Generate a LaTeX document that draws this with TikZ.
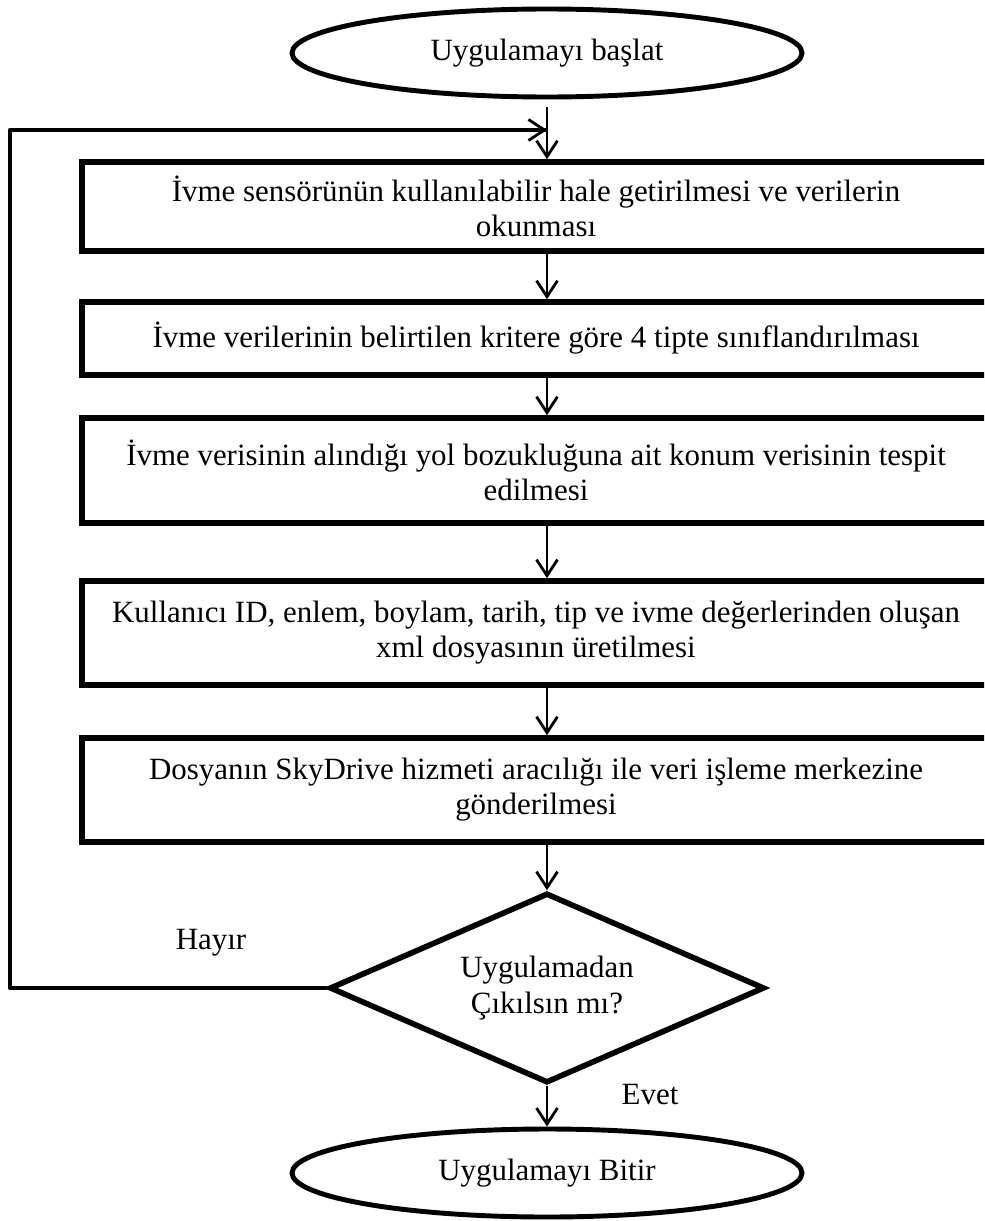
\documentclass[tikz,border=0pt]{standalone}
\usepackage{fontspec}
\setmainfont{Liberation Serif}
\usepackage{tikz}
\usetikzlibrary{arrows.meta,positioning,shapes.geometric}

\tikzset{
  stepbox/.style={draw,rectangle,line width=3.2pt,minimum width=18.16cm,align=center,inner sep=0pt},
  terminal/.style={draw,ellipse,line width=2.8pt,minimum width=10.2cm,minimum height=1.76cm},
  decision/.style={draw,diamond,aspect=2.27,line width=3.2pt,minimum width=8.7cm,minimum height=3.8cm,align=center,inner sep=0pt},
  flow/.style={line width=1.6pt,-{Straight Barb[length=0.32cm,width=0.42cm,line width=1.6pt]}},
  back/.style={line width=2.4pt},
}

\begin{document}
\begin{tikzpicture}[font=\fontsize{17.6}{20}\selectfont]
    \useasboundingbox (0,0) rectangle (19.68,-24.42);
    \clip (0,0) rectangle (19.68,-24.42);

    \node[terminal] (start) at (10.94,-1.06) {Uygulamayı başlat} ;
    \node[stepbox,minimum height=1.78cm] (read) at (10.72,-4.13)
        {İvme sensörünün kullanılabilir hale getirilmesi ve verilerin\\okunması} ;
    \node[stepbox,minimum height=1.46cm] (classify) at (10.72,-6.77)
        {İvme verilerinin belirtilen kritere göre 4 tipte sınıflandırılması} ;
    \node[stepbox,minimum height=2.1cm] (locate) at (10.72,-9.41)
        {İvme verisinin alındığı yol bozukluğuna ait konum verisinin tespit\\edilmesi} ;
    \node[stepbox,minimum height=2.08cm] (xml) at (10.72,-12.66)
        {Kullanıcı ID, enlem, boylam, tarih, tip ve ivme değerlerinden oluşan\\xml dosyasının üretilmesi} ;
    \node[stepbox,minimum height=2.08cm] (send) at (10.72,-15.8)
        {Dosyanın SkyDrive hizmeti aracılığı ile veri işleme merkezine\\gönderilmesi} ;
    \node[decision] (quit) at (10.94,-19.76) {Uygulamadan\\Çıkılsın mı?} ;
    \node[terminal] (stop) at (10.94,-23.46) {Uygulamayı Bitir} ;

    \node (no) at (4.22,-18.86) {Hayır} ;
    \node (yes) at (13.0,-21.9) {Evet} ;

    \coordinate (startout) at (10.94,-2.14) ;
    \coordinate (loopup) at (0.2,-2.6) ;
    \coordinate (loopin) at (10.94,-2.6) ;

    \path[flow] (startout) edge (startout |- read.north) ;
    \path[flow] (read.south -| quit) edge (classify.north -| quit) ;
    \path[flow] (classify.south -| quit) edge (locate.north -| quit) ;
    \path[flow] (locate.south -| quit) edge (xml.north -| quit) ;
    \path[flow] (xml.south -| quit) edge (send.north -| quit) ;
    \path[flow] (send.south -| quit) edge (quit.north) ;
    \path[flow] (quit.south) edge (stop.north) ;

    \draw[back,line join=round] (quit.west) -| (loopup) -- (loopin) ;
    \path[flow] (loopup) edge (loopin) ;
\end{tikzpicture}
\end{document}
